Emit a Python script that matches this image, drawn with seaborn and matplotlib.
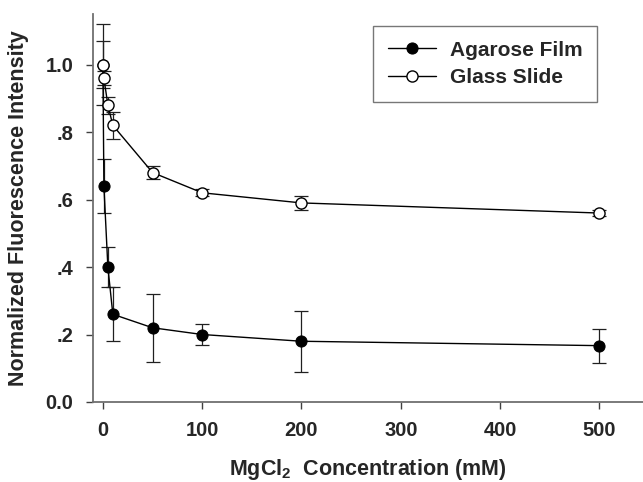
import matplotlib
matplotlib.use("Agg")
import matplotlib.pyplot as plt
import seaborn as sns
import pandas as pd
import numpy as np
from matplotlib.ticker import FixedLocator, FixedFormatter

sns.set_style("ticks")
plt.rcParams['font.family'] = ['Liberation Sans', 'DejaVu Sans']
plt.rcParams['font.weight'] = 'bold'
plt.rcParams['mathtext.default'] = 'bf'
plt.rcParams['mathtext.fontset'] = 'custom'
plt.rcParams['mathtext.bf'] = 'Liberation Sans:bold'

# Data
agarose_x = [0, 1, 5, 10, 50, 100, 200, 500]
agarose_y = [1.00, 0.64, 0.40, 0.26, 0.22, 0.20, 0.18, 0.167]
agarose_err = [0.12, 0.08, 0.06, 0.08, 0.10, 0.03, 0.09, 0.05]

glass_x = [0, 1, 5, 10, 50, 100, 200, 500]
glass_y = [1.00, 0.96, 0.88, 0.82, 0.68, 0.62, 0.59, 0.56]
glass_err = [0.07, 0.02, 0.025, 0.04, 0.02, 0.01, 0.02, 0.01]

y_ticks = [0.0, 0.2, 0.4, 0.6, 0.8, 1.0]
y_tick_labels = ["0.0", ".2", ".4", ".6", ".8", "1.0"]
x_ticks = [0, 100, 200, 300, 400, 500]

df = pd.concat([
    pd.DataFrame({"x": agarose_x, "y": agarose_y, "series": "Agarose Film"}),
    pd.DataFrame({"x": glass_x, "y": glass_y, "series": "Glass Slide"}),
])

fig = plt.figure(figsize=(6.43, 4.82), dpi=100)
ax = fig.add_axes([0.1446, 0.166, 0.8554, 0.805])

# error bars
ax.errorbar(agarose_x, agarose_y, yerr=agarose_err, fmt='none', ecolor='#202020',
            elinewidth=0.9, capsize=5, capthick=0.9, zorder=2)
ax.errorbar(glass_x, glass_y, yerr=glass_err, fmt='none', ecolor='#202020',
            elinewidth=0.9, capsize=5, capthick=0.9, zorder=2)

sns.lineplot(data=df[df.series == "Agarose Film"], x="x", y="y", ax=ax,
             color='black', linewidth=1.0, marker='o', markersize=8,
             markerfacecolor='black', markeredgecolor='black', label="Agarose Film",
             zorder=3)
sns.lineplot(data=df[df.series == "Glass Slide"], x="x", y="y", ax=ax,
             color='black', linewidth=1.0, marker='o', markersize=8,
             markerfacecolor='white', markeredgecolor='black', markeredgewidth=1.0,
             label="Glass Slide", zorder=4)

ax.set_xlim(-10, 544)
ax.set_ylim(0, 1.15)
ax.yaxis.set_major_locator(FixedLocator(y_ticks))
ax.yaxis.set_major_formatter(FixedFormatter(y_tick_labels))
ax.set_xticks(x_ticks)

for s in ['top', 'right']:
    ax.spines[s].set_visible(False)
for s in ['left', 'bottom']:
    ax.spines[s].set_color('#707070')
    ax.spines[s].set_linewidth(1.3)

ax.tick_params(axis='both', direction='out', length=5, width=1.0, color='#404040',
               labelsize=14.5, pad=9)
for lab in ax.get_xticklabels() + ax.get_yticklabels():
    lab.set_fontweight('bold')

ax.set_xlabel(r"MgCl$_\mathbf{2}$  Concentration (mM)", fontsize=15.5, fontweight='bold', labelpad=12)
ax.set_ylabel("Normalized Fluorescence Intensity", fontsize=15.5, fontweight='bold', labelpad=12)

leg = ax.legend(loc='upper left', bbox_to_anchor=(0.509, 0.969), frameon=True,
                fancybox=False, edgecolor='#555555', fontsize=15, handlelength=2.35,
                borderpad=0.7, labelspacing=0.4, handletextpad=0.65, borderaxespad=0)
leg.get_frame().set_linewidth(1.0)
for t in leg.get_texts():
    t.set_fontweight('bold')

fig.savefig("out.png", dpi=100)
